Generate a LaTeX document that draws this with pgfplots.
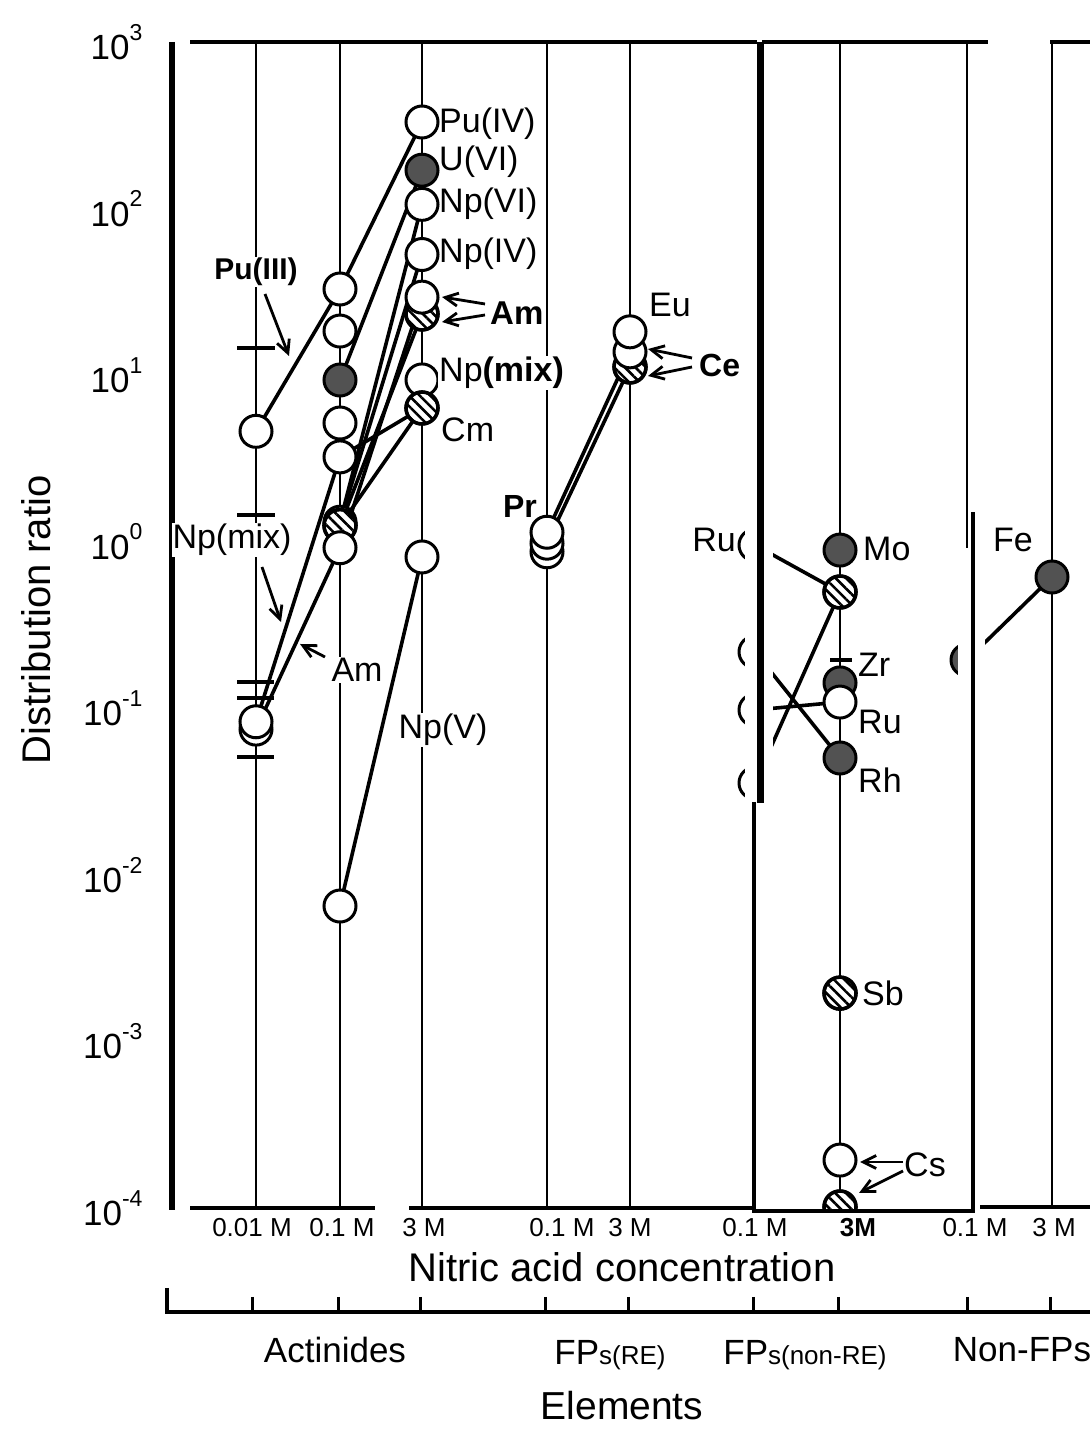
\documentclass[border=0pt]{standalone}
\usepackage{fontspec}
\setmainfont{Liberation Sans}
\usepackage{pgfplots}
\pgfplotsset{compat=1.18}
\usetikzlibrary{patterns.meta, arrows.meta}
\newcommand\fs[1]{\fontsize{#1}{#1}\selectfont}
\newcommand\tp[1]{10\raisebox{0.55em}{\fs{23}#1}}
\tikzset{pix/.style={x=1pt, y=-1pt, yshift=1429pt}}
\begin{document}
\begin{tikzpicture}
\path[use as bounding box] (0pt,0pt) rectangle (1090pt,1429pt);
% column lines
\begin{scope}[pix, line width=2.8pt]
\foreach \xx in {256,340,422,547,630,840,1052} \draw (\xx,42) -- (\xx,1208);
\draw (967,42) -- (967,548);
\end{scope}
\begin{axis}[at={(172pt,221pt)}, anchor=south west, scale only axis,
  width=918pt, height=1166pt, xmin=172, xmax=1090,
  ymode=log, ymin=1e-4, ymax=1e3,
  axis line style={draw=none}, tick style={draw=none},
  xtick=\empty,
  ytick={1e-4,1e-3,1e-2,1e-1,1,10,100,1000},
  yticklabels={\tp{-4},\tp{-3},\tp{-2},\tp{-1},\tp{0},\tp{1},\tp{2},\tp{3}},
  yticklabel style={font=\fs{35}, anchor=east, xshift=-26pt},
  clip=false]
% connecting lines
\pgfplotsset{every axis plot/.append style={line width=3.6pt, black}}
\addplot[mark=none] coordinates {(256,4.6) (340,32.9)};
\addplot[mark=none] coordinates {(340,32.9) (422,331)};
\addplot[mark=none] coordinates {(340,9.35) (422,170)};
\addplot[mark=none] coordinates {(340,1.31) (422,106)};
\addplot[mark=none] coordinates {(340,1.31) (422,53)};
\addplot[mark=none] coordinates {(256,0.075) (340,0.92) (422,29.4)};
\addplot[mark=none] coordinates {(340,1.25) (422,23.3)};
\addplot[mark=none] coordinates {(256,0.083) (340,3.23) (422,6.35)};
\addplot[mark=none] coordinates {(340,1.25) (422,6.35)};
\addplot[mark=none] coordinates {(340,0.0065) (422,0.81)};
\addplot[mark=none] coordinates {(547,1.14) (630,13.8)};
\addplot[mark=none] coordinates {(547,0.98) (630,11.2)};
\addplot[mark=none] coordinates {(755,0.955) (840,0.499)};
\addplot[mark=none] coordinates {(755,0.0356) (840,0.499)};
\addplot[mark=none] coordinates {(755,0.0977) (840,0.109)};
\addplot[mark=none] coordinates {(755,0.218) (840,0.0503)};
\addplot[mark=none] coordinates {(967,0.195) (1052,0.614)};
% error bar caps
\addplot[mark=none] coordinates {(237,14.56) (275,14.56)};
\addplot[mark=none] coordinates {(237,1.445) (275,1.445)};
\addplot[mark=none] coordinates {(237,0.1436) (274,0.1436)};
\addplot[mark=none] coordinates {(237,0.1153) (274,0.1153)};
\addplot[mark=none] coordinates {(237,0.0509) (274,0.0509)};
\addplot[mark=none] coordinates {(830,0.195) (852,0.195)};
% dark (dotted) markers
\addplot[only marks, mark=*, mark size=16pt, mark options={fill=black!68, draw=black, line width=3pt}]
  coordinates {(340,9.35) (422,170) (840,0.891) (840,0.142) (840,0.0503) (1052,0.614) (967,0.195)};
% open markers, first layer
\addplot[only marks, mark=*, mark size=16pt, mark options={fill=white, draw=black, line width=3pt}]
  coordinates {(256,0.075) (256,0.083) (256,4.6)
  (340,32.9) (340,18.4) (340,5.16) (340,3.23) (340,1.31) (340,0.0065)
  (422,331) (422,106) (422,53) (422,9.36) (422,0.81)
  (547,0.87) (547,0.98)
  (755,0.955) (755,0.218) (755,0.0977) (755,0.0356) (840,0.109) (840,1.94e-4)};
% hatched markers
\addplot[only marks, mark=*, mark size=16pt, mark options={fill=white, draw=none}]
  coordinates {(340,1.25) (422,23.3) (422,6.35) (630,11.2) (840,0.499) (840,0.00195) (840,1.014e-4)};
\addplot[only marks, mark=*, mark size=16pt, mark options={draw=black, line width=3pt, pattern={Lines[angle=-45,distance=7.5pt,line width=2.6pt]}}]
  coordinates {(340,1.25) (422,23.3) (422,6.35) (630,11.2) (840,0.499) (840,0.00195) (840,1.014e-4)};
% open markers, top layer
\addplot[only marks, mark=*, mark size=16pt, mark options={fill=white, draw=black, line width=3pt}]
  coordinates {(340,0.92) (422,29.4) (547,1.14) (630,13.8) (630,18.2)};
\end{axis}
\begin{scope}[pix]
% white paste-up strips
\fill[white] (745,520) rectangle (773,802);
\fill[white] (958,548) rectangle (985,700);
\fill[white] (818,1211) rectangle (864,1228);
% frame pieces
\draw[line width=6.5pt] (172,42) -- (172,1210);
\draw[line width=3.5pt] (190,42) -- (757,42);
\draw[line width=3.5pt] (762,42) -- (988,42);
\draw[line width=3.5pt] (1050,42) -- (1090,42);
\draw[line width=3.5pt] (190,1208) -- (375,1208);
\draw[line width=3.5pt] (409,1208) -- (754,1208);
\draw[line width=3.5pt] (754,802) -- (754,1211) -- (973,1211) -- (973,512);
\draw[line width=7pt] (760,42) -- (760,803);
\draw[line width=3.5pt] (980,1207) -- (1090,1207);
% elements bracket
\draw[line width=3.5pt] (165,1312) -- (1090,1312);
\draw[line width=3.5pt] (167,1288) -- (167,1313);
\foreach \xx in {252,338,420,545,628,753,838,967,1050} \draw[line width=3pt] (\xx,1297) -- (\xx,1312);
% labels
\begin{scope}[every node/.style={font=\fs{34}, inner sep=1pt}]
\node[anchor=west] at (438,124) {Pu(IV)};
\node[anchor=west] at (438,162) {U(VI)};
\node[anchor=west] at (438,204) {Np(VI)};
\node[anchor=west] at (438,254) {Np(IV)};
\node[anchor=west, font=\fs{33}\bfseries] at (489,313) {Am};
\node[anchor=west, fill=white] at (438,373) {Np\textbf{(mix)}};
\node[anchor=west] at (440,430) {Cm};
\node[fill=white] at (443,730) {Np(V)};
\node[fill=white, font=\fs{30}\bfseries] at (256,272) {Pu(III)};
\node[fill=white] at (232,540) {Np(mix)};
\node[fill=white] at (357,670) {Am};
\node[anchor=west] at (648,305) {Eu};
\node[anchor=west, font=\fs{32}\bfseries] at (698,365) {Ce};
\node[font=\fs{32}\bfseries] at (520,507) {Pr};
\node[anchor=east] at (737,540) {Ru};
\node[anchor=west] at (862,549) {Mo};
\node[anchor=west] at (857,665) {Zr};
\node[anchor=west] at (857,722) {Ru};
\node[anchor=west] at (857,780) {Rh};
\node[anchor=west] at (861,993) {Sb};
\node[anchor=west] at (903,1165) {Cs};
\node[anchor=west] at (992,540) {Fe};
\end{scope}
% arrows
\begin{scope}[line width=2.8pt, -{Straight Barb[length=13pt,width=13pt]}]
\draw (485,304) -- (442,297);
\draw (485,315) -- (442,322);
\draw (265,294) -- (289,356);
\draw (262,567) -- (281,622);
\draw (325,657) -- (300,644);
\draw (692,358) -- (648,349);
\draw (692,367) -- (648,376);
\draw (903,1162) -- (860,1162);
\draw (903,1171) -- (859,1193);
\end{scope}
% x tick labels
\begin{scope}[every node/.style={font=\fs{26}, inner sep=0pt}]
\node at (252,1228) {0.01 M};
\node at (342,1228) {0.1 M};
\node at (424,1228) {3 M};
\node at (562,1228) {0.1 M};
\node at (630,1228) {3 M};
\node at (755,1228) {0.1 M};
\node[font=\fs{26}\bfseries] at (858,1228) {3M};
\node at (975,1228) {0.1 M};
\node at (1054,1228) {3 M};
\end{scope}
\node[font=\fs{40}, inner sep=0pt] at (622,1267) {Nitric acid concentration};
\node[font=\fs{40}, rotate=90, inner sep=0pt] at (36,620) {Distribution ratio};
\node[font=\fs{35}, inner sep=0pt] at (335,1350) {Actinides};
\node[inner sep=0pt] at (610,1355) {\fs{35}FP\fs{26}s(RE)};
\node[inner sep=0pt] at (805,1355) {\fs{35}FP\fs{26}s(non-RE)};
\node[font=\fs{35}, inner sep=0pt] at (1022,1350) {Non-FPs};
\node[font=\fs{39}, inner sep=0pt] at (622,1406) {Elements};
\end{scope}
\end{tikzpicture}
\end{document}
